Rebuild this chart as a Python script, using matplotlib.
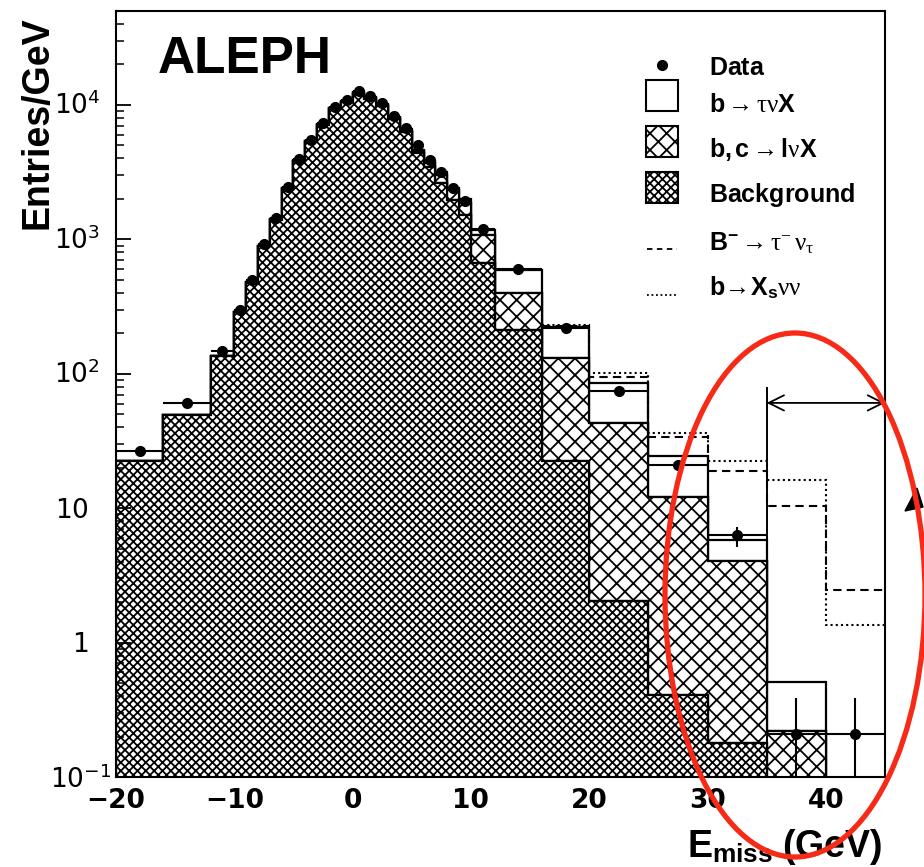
import numpy as np
import matplotlib
matplotlib.use('Agg')
import matplotlib.pyplot as plt
from matplotlib.patches import Rectangle, Ellipse, Polygon, FancyArrowPatch
from matplotlib.lines import Line2D
from matplotlib import transforms

plt.rcParams['font.family'] = 'Liberation Sans'
plt.rcParams['mathtext.fontset'] = 'custom'
plt.rcParams['mathtext.bf'] = 'Liberation Sans:bold'
plt.rcParams['mathtext.rm'] = 'Liberation Serif'
plt.rcParams['mathtext.it'] = 'Liberation Serif:italic'
plt.rcParams['mathtext.sf'] = 'DejaVu Sans'
plt.rcParams['hatch.linewidth'] = 1.3

# bin edges of E_miss (GeV)
edges = [-20, -16, -12, -10, -9, -8, -7, -6, -5, -4, -3, -2, -1, 0, 1, 2, 3, 4,
         5, 6, 7, 8, 9, 10, 12, 16, 20, 25, 30, 35, 40, 45]

# data (entries/GeV)
data = [26.5, 61, 147, 300, 500, 930, 1450, 2450, 3970, 5500, 7350, 9660, 10900,
        12800, 11700, 10300, 8280, 6750, 5000, 3900, 3170, 2410, 1930, 1195, 600,
        218, 74, 21, 6.3, 0.21, 0.21]
err_lo = [0, 0, 0, 0, 0, 0, 0, 0, 0, 0, 0, 0, 0, 0, 0, 0, 0, 0, 0, 0, 0, 0, 0, 0, 0,
          0, 0, 0, 1.2, 0.2, 0.2]
err_hi = [0, 0, 0, 0, 0, 0, 0, 0, 0, 0, 0, 0, 0, 0, 0, 0, 0, 0, 0, 0, 0, 0, 0, 0, 0,
          0, 0, 0, 0.9, 0.18, 0.18]

# stacked MC components
background = [22.4, 49, 135, 288, 475, 890, 1400, 2370, 3820, 5300, 7080, 9300, 10450,
              12150, 11150, 9750, 7800, 6250, 4390, 3450, 2630, 1960, 1520, 665, 213,
              22.4, 2.04, 0.41, 0.18, 0.05, 0.001]
bc_lnuX = [0, 0, 0, 1, 3, 6, 12, 20, 40, 60, 70, 120, 150, 200, 200, 200, 200, 200,
           160, 250, 380, 370, 350, 415, 187, 108, 41, 11.6, 3.87, 0.17, 0]
b_taunuX = [0, 0, 0, 1, 2, 4, 8, 10, 20, 40, 50, 80, 100, 150, 150, 150, 150, 150,
            100, 100, 160, 80, 130, 90, 194, 92, 43, 12.3, 1.75, 0.29, 0]

# signal curves
sig_edges = [16, 20, 25, 30, 35, 40, 45]
B_taunu = [228, 95, 34, 19, 10.4, 2.46]
b_Xsnunu = [232, 102, 36, 22.4, 16.2, 1.35]

xticks = [-20, -10, 0, 10, 20, 30, 40]
xticklabels = ['\u221220', '\u221210', '0', '10', '20', '30', '40']

W, H = 924, 867
def fx(px):
    return px / W
def fy(py):
    return 1 - py / H

fig = plt.figure(figsize=(W / 100, H / 100), dpi=100)
ax = fig.add_axes([fx(116), fy(777), (885 - 116) / W, (777 - 11) / H])
ax.set_yscale('log')
ax.set_xlim(-20, 45)
ax.set_ylim(0.1, 5e4)

edges = np.array(edges, dtype=float)
top1 = np.array(background)
top2 = top1 + np.array(bc_lnuX)
top3 = top2 + np.array(b_taunuX)
floor = np.full(len(top1), 1e-3)

ax.stairs(np.maximum(top3, 1e-3), edges, baseline=np.maximum(top2, 1e-3), fill=True,
          facecolor='white', edgecolor='black', lw=1.6)
ax.stairs(np.maximum(top2, 1e-3), edges, baseline=np.maximum(top1, 1e-3), fill=True,
          facecolor='white', edgecolor='black', hatch='xx', lw=1.6)
ax.stairs(np.maximum(top1, 1e-3), edges, baseline=floor, fill=True,
          facecolor='white', edgecolor='black', hatch='xxxx', lw=1.6)

ax.stairs(B_taunu, sig_edges, baseline=None, color='black', lw=1.5, ls=(0, (4, 2.5)))
ax.stairs(b_Xsnunu, sig_edges, baseline=None, color='black', lw=1.5, ls=(0, (1, 1.5)))

centers = (edges[:-1] + edges[1:]) / 2
halfw = np.diff(edges) / 2
ax.errorbar(centers, data, xerr=halfw, yerr=[err_lo, err_hi], fmt='o', color='black',
            ms=7, elinewidth=1.5, capsize=0, zorder=5)

# signal region marker
ax.plot([35, 35], [0.1, 79], color='black', lw=1.4, zorder=6)
arr = FancyArrowPatch((35, 60.7), (45, 60.7), arrowstyle='<->,head_length=1.1,head_width=0.55',
                      mutation_scale=10, lw=1.3, color='black', shrinkA=0, shrinkB=0,
                      clip_on=False, zorder=6)
ax.add_patch(arr)

for s in ax.spines.values():
    s.set_linewidth(1.5)
ax.tick_params(axis='y', which='major', direction='in', length=11, width=1.3,
               labelleft=False, right=False)
ax.tick_params(axis='y', which='minor', direction='in', length=6, width=1.1,
               labelleft=False, right=False)
ax.set_xticks(xticks)
ax.set_xticklabels(xticklabels, fontfamily='DejaVu Sans', fontweight='bold', fontsize=19)
ax.tick_params(axis='x', length=0, pad=8)

# y tick labels, ROOT style
ytr = transforms.blended_transform_factory(fig.transFigure, ax.transData)
for val, lab, x, ha in [(1e4, r'$\mathsf{10^{4}}$', 54, 'left'),
                        (1e3, r'$\mathsf{10^{3}}$', 54, 'left'),
                        (1e2, r'$\mathsf{10^{2}}$', 54, 'left'),
                        (10, r'$\mathsf{10}$', 55, 'left'),
                        (1, r'$\mathsf{1}$', 88, 'right'),
                        (0.1, r'$\mathsf{10^{-1}}$', 50, 'left')]:
    off = 11 if val < 0.5 else 9.5
    t = transforms.offset_copy(ytr, fig=fig, y=-off, units='dots')
    fig.text(fx(x), val, lab, transform=t, ha=ha, va='baseline', fontsize=19)

fig.text(fx(38), fy(123), 'Entries/GeV', rotation=90, ha='center', va='center',
         fontsize=27, fontweight='bold')
fig.text(fx(158), fy(73), 'ALEPH', fontsize=37, fontweight='bold', va='baseline')
fig.text(fx(882), fy(857), r'$\mathbf{E}_{\mathbf{miss}}\ \mathbf{(GeV)}$', ha='right',
         va='baseline', fontsize=27)

# legend
fig.add_artist(Line2D([fx(662)], [fy(65)], marker='o', ms=7, color='black',
                      transform=fig.transFigure))
for ytop, hatch in [(80, None), (126, 'xx'), (172, 'xxxx')]:
    fig.add_artist(Rectangle((fx(646), fy(ytop + 31)), 32 / W, 31 / H,
                             transform=fig.transFigure, facecolor='white',
                             edgecolor='black', lw=1.5, hatch=hatch))
fig.add_artist(Line2D([fx(647), fx(677)], [fy(249), fy(249)], color='black', lw=1.3,
                      ls=(0, (3, 2.5)), transform=fig.transFigure))
fig.add_artist(Line2D([fx(647), fx(677)], [fy(295), fy(295)], color='black', lw=1.3,
                      ls=(0, (1, 1.5)), transform=fig.transFigure))
legend_texts = [(75, r'$\mathbf{Data}$'),
                (112, r'$\mathbf{b}\mathrm{\rightarrow\tau\nu}\mathbf{X}$'),
                (157, r'$\mathbf{b,c}\mathrm{\rightarrow}\mathbf{l}\mathrm{\nu}\mathbf{X}$'),
                (202, r'$\mathbf{Background}$'),
                (250, r'$\mathbf{B}^{\mathbf{-}}\mathrm{\rightarrow\tau^{-}\,\nu_{\tau}}$'),
                (295, r'$\mathbf{b}\!\mathrm{\rightarrow}\!\mathbf{X}_{\mathbf{s}}\mathrm{\nu\nu}$')]
for yb, s in legend_texts:
    fig.text(fx(709), fy(yb), s, va='baseline', ha='left', fontsize=18)

# annotation: arrow head and red ellipse
fig.add_artist(Polygon([(fx(917), fy(488)), (fx(905), fy(511)), (fx(923), fy(507))],
                       closed=True, facecolor='black', edgecolor='black',
                       transform=fig.transFigure))
fig.add_artist(Ellipse((fx(795), fy(595)), 260 / W, 524 / H, transform=fig.transFigure,
                       fill=False, edgecolor='#f62a17', lw=3.8, zorder=10))

fig.savefig('out.png', dpi=100)
